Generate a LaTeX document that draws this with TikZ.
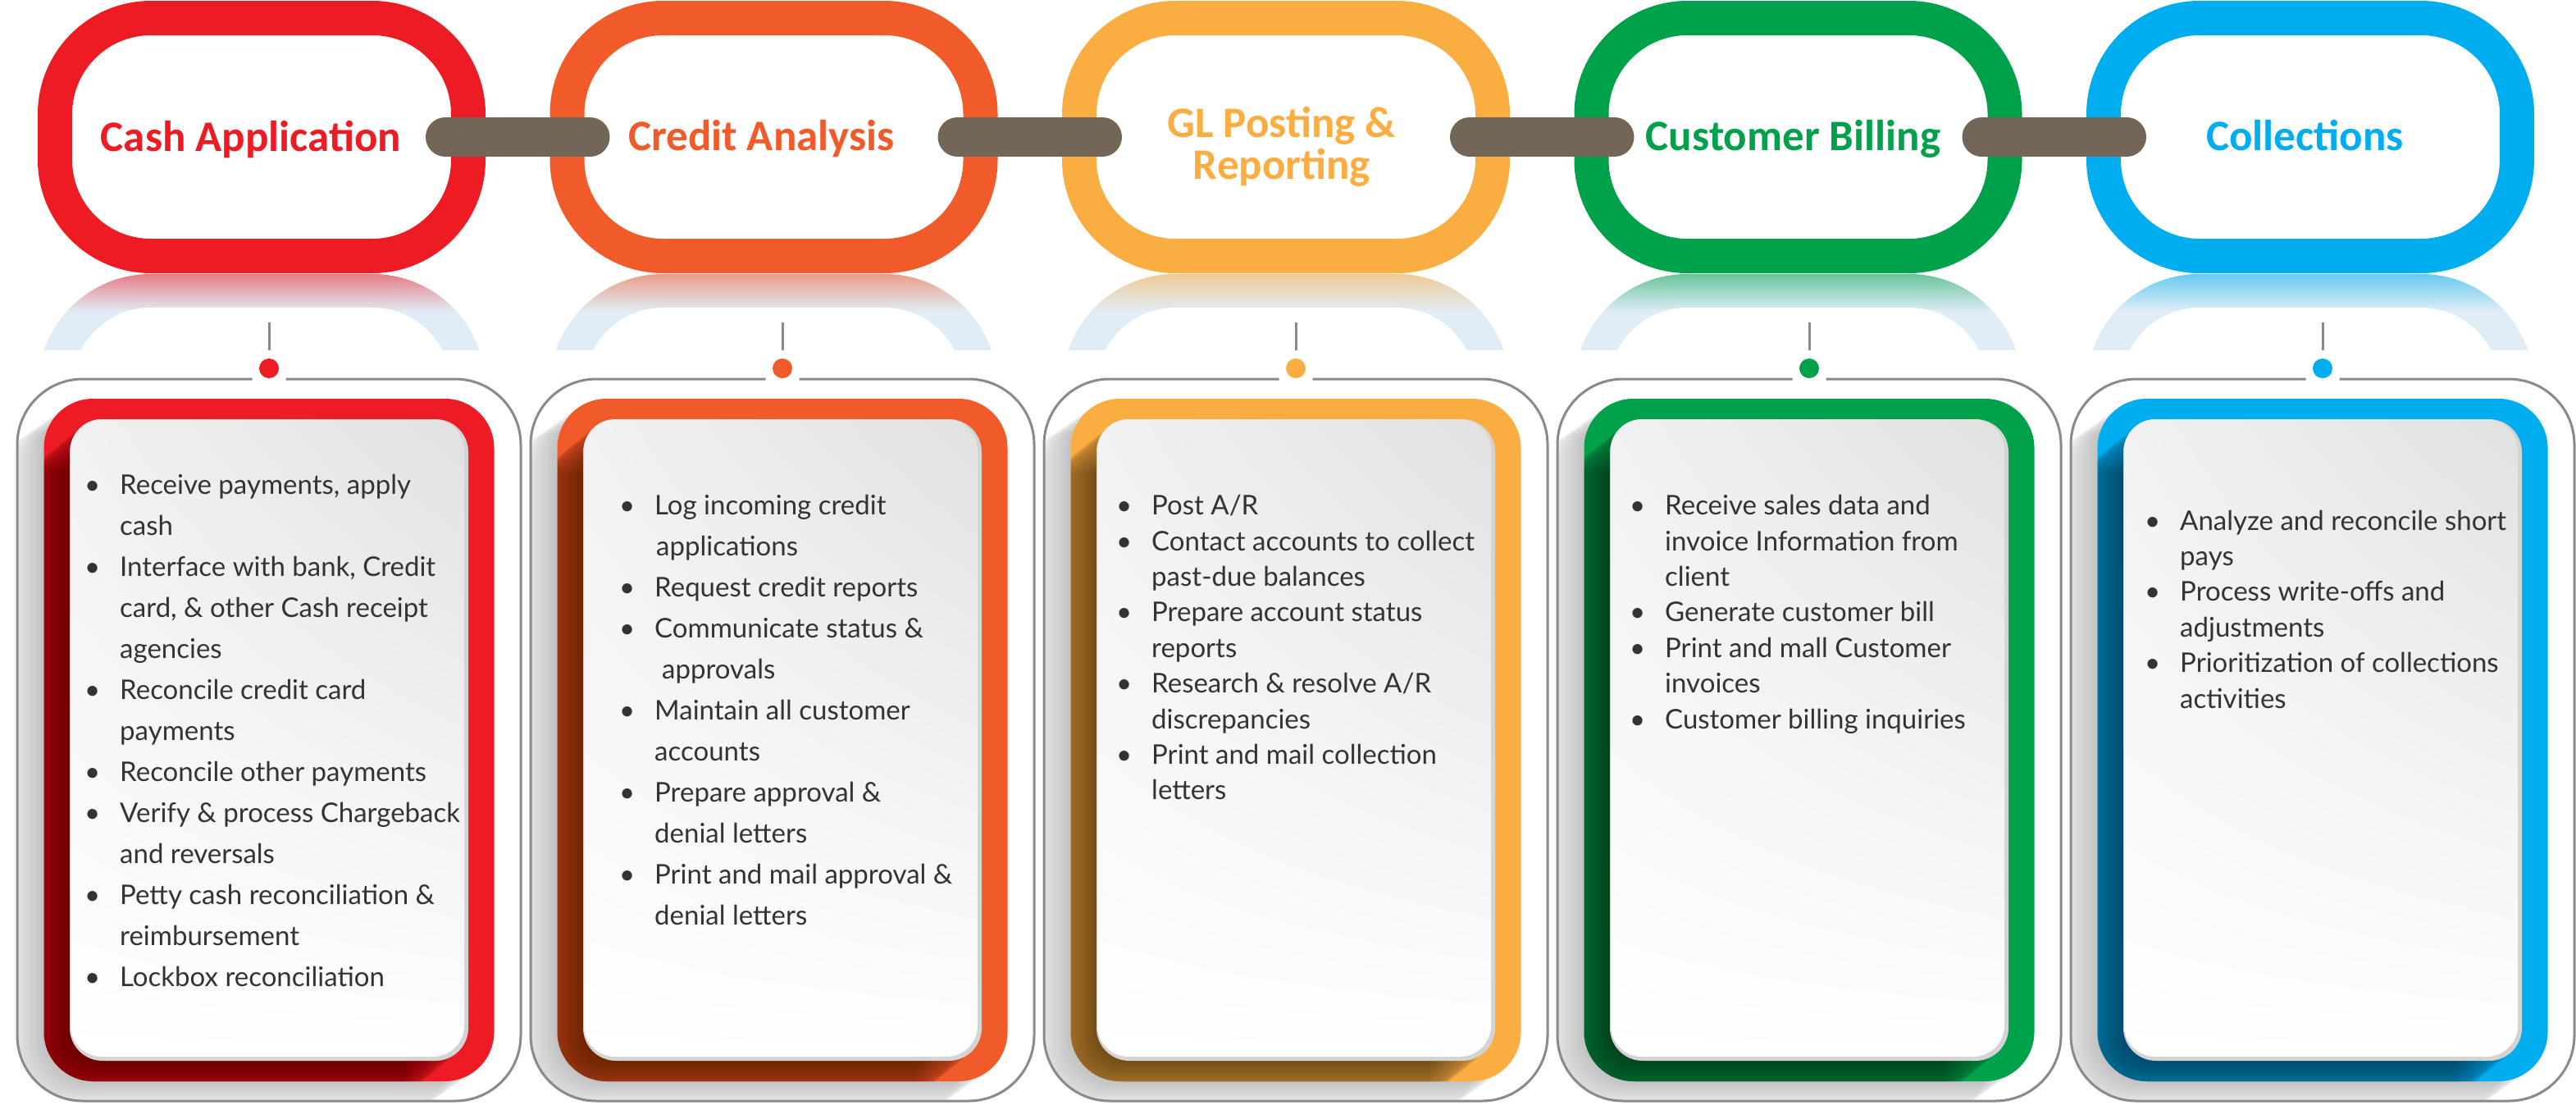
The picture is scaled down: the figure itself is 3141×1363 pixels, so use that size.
\documentclass[tikz,border=0pt]{standalone}
\usepackage{fontspec}
\setmainfont{Lato}
\newfontfamily\headfont{Carlito}
\usetikzlibrary{positioning,calc,shadings}

\definecolor{cashred}{RGB}{237,28,36}
\definecolor{creditorange}{RGB}{241,90,41}
\definecolor{glyellow}{RGB}{250,174,66}
\definecolor{billgreen}{RGB}{0,161,75}
\definecolor{collblue}{RGB}{0,173,238}
\definecolor{linkbrown}{RGB}{115,102,88}
\definecolor{reflblue}{RGB}{225,237,246}
\definecolor{framegray}{RGB}{138,138,138}
\definecolor{listgray}{RGB}{51,51,51}
\definecolor{cardtop}{RGB}{225,225,225}
\definecolor{cardedge}{RGB}{212,212,212}

\tikzset{
  ringbox/.style={rectangle, line width=42pt, rounded corners=117pt, minimum width=504pt, minimum height=290pt, inner sep=0pt, outer sep=0pt},
  linkbar/.style={draw=linkbrown, line width=48pt, line cap=round},
  stemline/.style={draw=framegray, line width=3pt},
  framebox/.style={draw=framegray, line width=3pt, rounded corners=80pt},
  dotmark/.style={circle, inner sep=0pt, minimum size=24pt},
  headtext/.style={font=\headfont\bfseries\fontsize{53}{50.5}\selectfont, align=center, inner sep=0pt, anchor=base},
  listtext/.style={font=\fontsize{33}{50}\selectfont, text=listgray, align=left, inner sep=0pt, anchor=base west},
  listtight/.style={listtext, font=\fontsize{33}{43.4}\selectfont},
}
\newcommand{\itemdot}{\llap{\textbullet\hspace{24pt}}}

\begin{document}
\begin{tikzpicture}[x=1pt,y=1pt,yscale=-1,xscale=1]
\fill[white] (0,0) rectangle (3141,1363);
\useasboundingbox (0,0) rectangle (3141,1363);

%Columns: reflection, stem, frame, coloured box and card
\foreach \hue/\k in {cashred/0,creditorange/1,glyellow/2,billgreen/3,collblue/4}{
  \pgfmathsetmacro{\rx}{319+624.5*\k}
  \pgfmathsetmacro{\bx}{328+626*\k}
  % reflection under the ring
  \begin{scope}
    \clip (\rx-290,333.5) rectangle (\rx+290,426);
    \fill[reflblue, rounded corners=138pt] (\rx-273,334) rectangle (\rx+273,666);
    \begin{scope}
      \clip[rounded corners=138pt] (\rx-273,334) rectangle (\rx+273,666);
      \shade[top color=\hue!55!reflblue, bottom color=reflblue] (\rx-290,333) rectangle (\rx+290,380);
    \end{scope}
    \fill[white, rounded corners=96pt] (\rx-231,375) rectangle (\rx+231,624);
  \end{scope}
  % stem and dot
  \coordinate (stem\k) at (\bx,393);
  \node[dotmark, fill=\hue] (dot\k) at (\bx,449) {};
  \draw[stemline, shorten >=10pt] (stem\k) -- (dot\k.north);
  % soft shadow inside the frame
  \begin{scope}
    \clip[rounded corners=80pt] (\bx-307,462) rectangle (\bx+307,1342);
    \foreach \t in {1,...,30}
      \fill[black, opacity=0.0075, rounded corners=60pt] (\bx-274.5-2*\t,486+1.4*\t) rectangle (\bx+274.5-2*\t,1318+1.4*\t);
  \end{scope}
  \draw[framebox] (\bx+20.5,462) -- (\bx+307,462) -- (\bx+307,1342) -- (\bx-307,1342) -- (\bx-307,462) -- (\bx-20.5,462);
  % coloured box with the card shadow
  \fill[\hue, rounded corners=60pt] (\bx-274.5,486) rectangle (\bx+274.5,1318);
  \begin{scope}
    \clip[rounded corners=60pt] (\bx-274.5,486) rectangle (\bx+274.5,1318);
    \foreach \t in {1,...,40}
      \fill[black, opacity=0.017, rounded corners=40pt] (\bx-243-2*\t,511+1.64*\t) rectangle (\bx+243-2*\t,1293+1.64*\t);
  \end{scope}
  % card
  \fill[cardedge, rounded corners=40pt] (\bx-243,511) rectangle (\bx+243,1293);
  \shade[upper left=cardtop!45!white, upper right=cardtop, lower left=white, lower right=white, rounded corners=38pt] (\bx-242,511) rectangle (\bx+238,1288);
}

%Rings
\foreach \hue/\k in {cashred/0,creditorange/1,glyellow/2,billgreen/3,collblue/4}{
  \pgfmathsetmacro{\rx}{319+624.5*\k}
  \node[ringbox, draw=\hue] (ring\k) at (\rx,167) {};
}
%Links between rings
\foreach \k [evaluate=\k as \j using int(\k+1)] in {0,...,3}
  \draw[linkbar] ([xshift=-28pt]ring\k.east) -- ([xshift=28pt]ring\j.west);

% Text Node
\node[headtext, text=cashred] (cashtitle) at (306,184) {Cash Application};
% Text Node
\node[headtext, text=creditorange] (credittitle) at (928.5,183.3) {Credit Analysis};
% Text Node
\node[headtext, text=glyellow] (gltitle) at (1563,218) {GL Posting \&\\Reporting};
% Text Node
\node[headtext, text=billgreen] (billtitle) at (2186.6,183.3) {Customer Billing};
% Text Node
\node[headtext, text=collblue] (colltitle) at (2810.5,183.3) {Collections};

% Text Node (placed at the baseline of the last line)
\node[listtext] (cashlist) at (146,1202) {\itemdot Receive payments, apply\\cash\\
\itemdot Interface with bank, Credit\\card, \& other Cash receipt\\agencies\\
\itemdot Reconcile credit card\\payments\\
\itemdot Reconcile other payments\\
\itemdot Verify \& process Chargeback\\and reversals\\
\itemdot Petty cash reconciliation \&\\reimbursement\\
\itemdot Lockbox reconciliation};
% Text Node
\node[listtext] (creditlist) at (798,1127.6) {\itemdot Log incoming credit\\\hspace*{2pt}applications\\
\itemdot Request credit reports\\
\itemdot Communicate status \&\\\hspace*{9pt}approvals\\
\itemdot Maintain all customer\\accounts\\
\itemdot Prepare approval \&\\denial letters\\
\itemdot Print and mail approval \&\\denial letters};
% Text Node
\node[listtight] (gllist) at (1404,974.8) {\itemdot Post A/R\\
\itemdot Contact accounts to collect\\past-due balances\\
\itemdot Prepare account status\\reports\\
\itemdot Research \& resolve A/R\\discrepancies\\
\itemdot Print and mail collection\\letters};
% Text Node
\node[listtight] (billlist) at (2030,888) {\itemdot Receive sales data and\\invoice Information from\\client\\
\itemdot Generate customer bill\\
\itemdot Print and mall Customer\\invoices\\
\itemdot Customer billing inquiries};
% Text Node
\node[listtight] (colllist) at (2658,863) {\itemdot Analyze and reconcile short\\pays\\
\itemdot Process write-offs and\\adjustments\\
\itemdot Prioritization of collections\\activities};
\end{tikzpicture}
\end{document}
